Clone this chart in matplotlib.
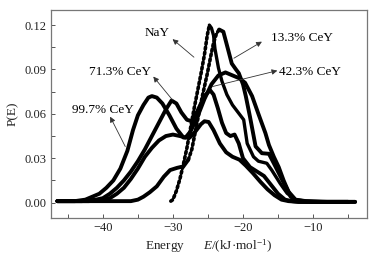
import matplotlib
matplotlib.use("Agg")
import matplotlib.pyplot as plt
from matplotlib.ticker import MultipleLocator

plt.rcParams['font.family'] = ['Liberation Serif', 'DejaVu Serif']
plt.rcParams['mathtext.fontset'] = 'custom'
plt.rcParams['mathtext.rm'] = 'Liberation Serif'
plt.rcParams['mathtext.it'] = 'Liberation Serif:italic'

# ---- data ----
x_997 = [-46.5, -44, -42.5, -41.5, -40.5, -39.5, -38.5, -37.5, -36.5, -35.7, -35, -34.2, -33.5, -33,
         -32.3, -31.5, -30.5, -29.5, -28.5, -27.6, -26.8, -26.0, -25.5, -24.9, -24.2, -23.3, -22.4,
         -21.5, -20.5, -19.6, -18.6, -17.5, -16.5, -15.5, -14.5, -13.5, -12, -8, -4]
y_997 = [0.001, 0.001, 0.002, 0.004, 0.006, 0.010, 0.015, 0.023, 0.035, 0.049, 0.059, 0.066, 0.071,
         0.072, 0.071, 0.067, 0.059, 0.050, 0.044, 0.044, 0.048, 0.053, 0.055, 0.0545, 0.049, 0.040,
         0.034, 0.031, 0.029, 0.025, 0.020, 0.014, 0.009, 0.005, 0.002, 0.001, 0.0005, 0.0005, 0.0005]

x_713 = [-46.5, -43, -41, -40, -39, -38, -37, -36, -35, -34, -33, -32, -31, -30.2, -29.5, -28.8, -28,
         -27.3, -26.5, -25.5, -24.7, -24.2, -23.6, -23, -22.4, -21.8, -21.2, -20.6, -20, -19, -18, -17,
         -16, -15, -14, -13, -12, -8, -4]
y_713 = [0.001, 0.001, 0.002, 0.003, 0.006, 0.010, 0.015, 0.021, 0.028, 0.036, 0.045, 0.054, 0.063,
         0.069, 0.067, 0.061, 0.056, 0.055, 0.062, 0.072, 0.076, 0.073, 0.064, 0.054, 0.047, 0.045,
         0.046, 0.040, 0.030, 0.024, 0.021, 0.018, 0.012, 0.006, 0.002, 0.001, 0.0005, 0.0005, 0.0005]

x_423 = [-46.5, -42, -40, -39, -38, -37, -36, -35, -34, -33, -32, -31, -30, -29, -28.2, -27.5, -26.5,
         -25.5, -24.5, -23.5, -22.5, -21.5, -20.5, -19.7, -18.7, -17.8, -16.8, -16.3, -15.6, -14.9,
         -14.2, -13.2, -12.3, -10, -5]
y_423 = [0.001, 0.001, 0.002, 0.003, 0.006, 0.010, 0.016, 0.023, 0.031, 0.037, 0.042, 0.045, 0.046,
         0.045, 0.044, 0.048, 0.058, 0.070, 0.080, 0.086, 0.088, 0.086, 0.084, 0.081, 0.072, 0.060,
         0.047, 0.039, 0.031, 0.024, 0.015, 0.004, 0.001, 0.0005, 0.0005]

x_133 = [-46.5, -38, -36, -35, -34.2, -33.3, -32.3, -31.3, -30.4, -29.4, -28.5, -27.8, -27.3, -26.8,
         -26.3, -25.8, -25.1, -24.6, -24.2, -23.8, -23.4, -22.8, -22.1, -21.6, -21.0, -20.6, -20.0,
         -19.6, -19.0, -18.6, -18.2, -17.3, -16.3, -15.6, -14.4, -13.5, -12.5, -11, -8, -5]
y_133 = [0.001, 0.001, 0.001, 0.002, 0.004, 0.007, 0.011, 0.0175, 0.022, 0.0235, 0.0245, 0.029, 0.036,
         0.048, 0.060, 0.072, 0.087, 0.099, 0.108, 0.114, 0.117, 0.1155, 0.103, 0.094, 0.090, 0.0875,
         0.080, 0.072, 0.058, 0.048, 0.038, 0.0334, 0.0330, 0.0266, 0.0153, 0.0074, 0.002, 0.001,
         0.0005, 0.0005]

x_nay = [-30.3, -30, -29.5, -29, -28.5, -28, -27.5, -27, -26.5, -26, -25.5, -25.1, -24.8, -24.5, -24.2,
         -24, -23.5, -23, -22.3, -21.5, -20.7, -19.9, -19.4, -18.5, -17.8, -16.6, -15.9, -14.7, -13.7,
         -12.5, -11, -8, -5]
y_nay = [0.001, 0.002, 0.008, 0.016, 0.026, 0.037, 0.050, 0.063, 0.075, 0.087, 0.100, 0.113, 0.120,
         0.118, 0.113, 0.104, 0.091, 0.082, 0.073, 0.066, 0.061, 0.056, 0.040, 0.031, 0.028, 0.0266,
         0.022, 0.013, 0.0063, 0.002, 0.001, 0.0005, 0.0005]

labels = ["NaY", "13.3% CeY", "42.3% CeY", "71.3% CeY", "99.7% CeY"]
x_ticks = [-40, -30, -20, -10]
y_ticks = [0.00, 0.03, 0.06, 0.09, 0.12]

# ---- figure ----
fig = plt.figure(figsize=(3.76, 2.61), dpi=100)
ax = fig.add_axes([51 / 376, 1 - 218 / 261, (367 - 51) / 376, (218 - 10) / 261])

lw = 2.8
solid = dict(color='black', lw=lw, solid_capstyle='round', solid_joinstyle='round')
dotted = dict(color='black', lw=2.6, linestyle=(0, (0.55, 0.85)), dash_capstyle='round')

ax.plot(x_997, y_997, **solid)
ax.plot(x_713, y_713, **solid)
ax.plot(x_423, y_423, **solid)

# 13.3% CeY: steep rise drawn as a chain of markers, rest solid
i0 = x_133.index(-27.8)
ip = x_133.index(-23.4)
ax.plot(x_133[:i0 + 1], y_133[:i0 + 1], **solid)
ax.plot(x_133[i0:ip + 1], y_133[i0:ip + 1], **dotted)
ax.plot(x_133[ip:], y_133[ip:], **solid)

# NaY: dotted rise, denser (solid-looking) fall
jp = x_nay.index(-24.8)
ax.plot(x_nay[:jp + 1], y_nay[:jp + 1], **dotted)
ax.plot(x_nay[jp:], y_nay[jp:], color='black', lw=2.4, solid_capstyle='round')

ax.set_xlim(-47.4, -2.3)
ax.set_ylim(-0.0104, 0.1302)
ax.set_xticks(x_ticks)
ax.set_yticks(y_ticks)
ax.set_xticklabels([f"\u2212{abs(v)}" for v in x_ticks])
ax.set_yticklabels([f"{v:.2f}" for v in y_ticks])
ax.xaxis.set_minor_locator(MultipleLocator(5))
ax.yaxis.set_minor_locator(MultipleLocator(0.015))
ax.tick_params(which='both', direction='in', top=False, right=False, length=3,
               width=0.7, color='#555555', labelsize=9, pad=3, labelcolor='#222222')
for s in ax.spines.values():
    s.set_color('#777777')
    s.set_linewidth(0.9)

ax.set_ylabel("P(E)", fontsize=9.5, labelpad=4, color='#222222')
ax.set_xlabel("Energy      $E$/(kJ\u00b7mol$^{-1}$)", fontsize=9.5, labelpad=2, color='#222222')

arrow = dict(arrowstyle='-|>', color='#333333', lw=0.6, mutation_scale=8, shrinkA=0, shrinkB=0)
fs = 9.5
ax.annotate("", xy=(-30.05, 0.1105), xytext=(-27.0, 0.0983), arrowprops=arrow)
ax.text(-32.2, 0.1144, labels[0], fontsize=fs, ha='center', va='center')
ax.annotate("", xy=(-17.3, 0.1088), xytext=(-21.3, 0.0976), arrowprops=arrow)
ax.text(-11.6, 0.111, labels[1], fontsize=fs, ha='center', va='center')
ax.annotate("", xy=(-15.1, 0.0892), xytext=(-24.4, 0.0784), arrowprops=arrow)
ax.text(-10.5, 0.0886, labels[2], fontsize=fs, ha='center', va='center')
ax.annotate("", xy=(-32.8, 0.0852), xytext=(-30.06, 0.0694), arrowprops=arrow)
ax.text(-37.6, 0.0886, labels[3], fontsize=fs, ha='center', va='center')
ax.annotate("", xy=(-38.96, 0.0581), xytext=(-36.8, 0.0379), arrowprops=arrow)
ax.text(-40.0, 0.0627, labels[4], fontsize=fs, ha='center', va='center')

fig.savefig("out.png", dpi=100)
